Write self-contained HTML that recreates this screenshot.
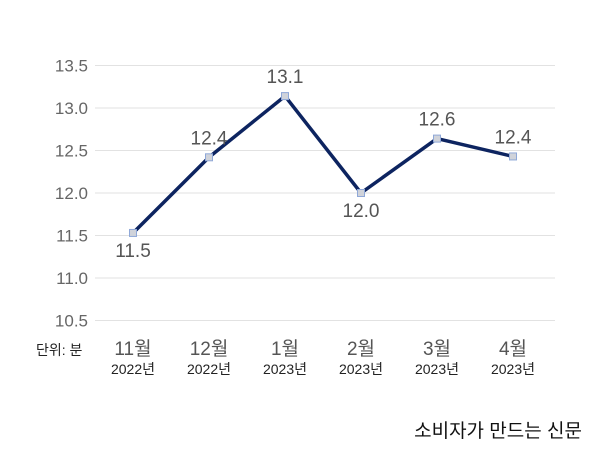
<!DOCTYPE html>
<html><head><meta charset="utf-8"><style>
body{margin:0;background:#fff;}
svg{display:block;font-family:"Liberation Sans","Noto Sans CJK KR",sans-serif;}
</style></head><body>
<svg id="chart" width="600" height="450">
<g id="grid"></g>
<g id="yticks"></g>
<g id="xticks"></g>
<g id="series"></g>
<text x="36" y="355" font-size="14" fill="#222">단위: 분</text>
<text x="582" y="437" font-size="19" fill="#111" text-anchor="end">소비자가 만드는 신문</text>
</svg>
<script>
const months=["11월","12월","1월","2월","3월","4월"];
const years=["2022년","2022년","2023년","2023년","2023년","2023년"];
const values=[11.53,12.42,13.14,12.0,12.64,12.43];
const valueLabels=["11.5","12.4","13.1","12.0","12.6","12.4"];
const labelAbove=[false,true,true,false,true,true];
const yTicks=[10.5,11.0,11.5,12.0,12.5,13.0,13.5];
const NS="http://www.w3.org/2000/svg";
function y(v){return 320.5-(v-10.5)*85;}
function x(i){return 133+i*76;}
function mk(t,a,p,txt){const e=document.createElementNS(NS,t);for(const k in a)e.setAttribute(k,a[k]);if(txt!==undefined)e.textContent=txt;p.appendChild(e);return e;}
const grid=document.getElementById('grid'),yt=document.getElementById('yticks'),xt=document.getElementById('xticks'),s=document.getElementById('series');
yTicks.forEach(v=>{
 const l=mk('line',{x1:95,x2:555,y1:y(v),y2:y(v),stroke:'#e2e2e2','stroke-width':1},grid);
 
 
 const t=mk('text',{x:88,y:y(v)+6,'font-size':17,fill:'#666','text-anchor':'end'},yt,v.toFixed(1));
 
 
});
months.forEach((m,i)=>{
 const t=mk('text',{x:x(i),y:355,'font-size':19,fill:'#555','text-anchor':'middle'},xt,m);
 
 
 const t2=mk('text',{x:x(i),y:374,'font-size':14,fill:'#222','text-anchor':'middle'},xt,years[i]);
 
 
});
const pl=mk('polyline',{points:values.map((v,i)=>x(i)+','+y(v)).join(' '),fill:'none',stroke:'#0d2460','stroke-width':3.5,'stroke-linejoin':'round'},s);


values.forEach((v,i)=>{
 const r=mk('rect',{x:x(i)-3.5,y:y(v)-3.5,width:7,height:7,fill:'#d0d3da',stroke:'#8fa8d8','stroke-width':1},s);
 
 
 const ty=labelAbove[i]?y(v)-13:y(v)+24;
 const t=mk('text',{x:x(i),y:ty,'font-size':19,fill:'#555','text-anchor':'middle'},s,valueLabels[i]);
 
 
});
</script>
</body></html>
